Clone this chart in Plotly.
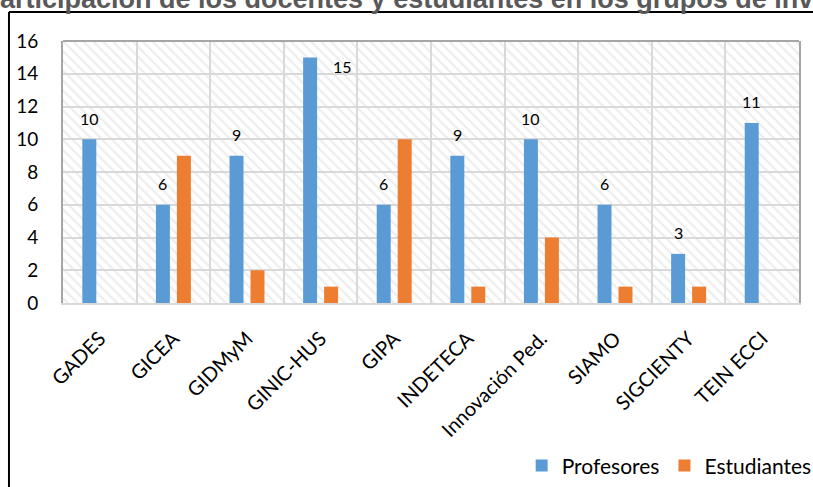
import plotly.graph_objects as go

categories = ["GADES", "GICEA", "GIDMyM", "GINIC-HUS", "GIPA", "INDETECA",
              "Innovación Ped.", "SIAMO", "SIGCIENTY", "TEIN ECCI"]
profesores = [10, 6, 9, 15, 6, 9, 10, 6, 3, 11]
estudiantes = [0, 9, 2, 1, 10, 1, 4, 1, 1, 0]
y_ticks = [0, 2, 4, 6, 8, 10, 12, 14, 16]
title_text = "Participación de los docentes y estudiantes en los grupos de investigación"

BLUE = "#5B9BD5"
ORANGE = "#ED7D31"
GRID = "#d9d9d9"
FONT = "Lato"

fig = go.Figure()

# hatched plot background
fig.add_trace(go.Bar(
    x=categories, y=[max(y_ticks)] * len(categories),
    offset=-0.5, width=1,
    marker=dict(color="rgba(0,0,0,0)", line=dict(width=0),
                pattern=dict(shape="\\", fgcolor=GRID, bgcolor="rgba(0,0,0,0)",
                             size=7, solidity=0.3)),
    showlegend=False, hoverinfo="skip",
))

fig.add_trace(go.Bar(name="Profesores", x=categories, y=profesores,
                     marker=dict(color=BLUE, line=dict(width=0))))
fig.add_trace(go.Bar(name="Estudiantes", x=categories, y=estudiantes,
                     marker=dict(color=ORANGE, line=dict(width=0))))

annotations = []
pmax = max(profesores)
for c, v in zip(categories, profesores):
    if v == pmax:
        annotations.append(dict(x=c, y=v, xref="x", yref="y", text=str(v),
                                showarrow=False, xshift=22, yshift=-9,
                                font=dict(family=FONT, size=16, color="#000000")))
    else:
        annotations.append(dict(x=c, y=v, xref="x", yref="y", text=str(v),
                                showarrow=False, xshift=-10.5, yshift=21,
                                font=dict(family=FONT, size=16, color="#000000")))

annotations.append(dict(x=-0.1128, y=1.097, xref="paper", yref="paper",
                        xanchor="left", yanchor="bottom", text="<b>" + title_text + "</b>",
                        showarrow=False,
                        font=dict(family="Liberation Sans", size=27, color="#595959")))

fig.update_layout(
    width=813, height=487, autosize=False,
    margin=dict(l=63, r=14, t=41, b=184, pad=0, autoexpand=False),
    paper_bgcolor="white", plot_bgcolor="white",
    barmode="group", bargap=0.43, bargroupgap=1/3,
    font=dict(family=FONT, size=18, color="#000000"),
    showlegend=True,
    legend=dict(orientation="h", x=1.024, xanchor="right", y=-0.622, yanchor="middle",
                font=dict(family=FONT, size=21, color="#000000"),
                bgcolor="rgba(0,0,0,0)", itemwidth=30, tracegroupgap=0),
    annotations=annotations,
    shapes=[
        dict(type="line", xref="paper", yref="paper", x0=0, x1=1, y0=1, y1=1,
             line=dict(color="#a6a6a6", width=2), layer="above"),
        dict(type="line", xref="paper", yref="paper", x0=-0.0734, x1=-0.0734,
             y0=-0.8, y1=1.1107, line=dict(color="#000000", width=2), layer="above"),
        dict(type="line", xref="paper", yref="paper", x0=-0.0734, x1=1.1,
             y0=1.1107, y1=1.1107, line=dict(color="#000000", width=2), layer="above"),
    ],
)

fig.update_xaxes(
    type="category", range=[-0.5, len(categories) - 0.5],
    tickangle=-45, tickson="boundaries", ticks="", ticklabelstandoff=14,
    showgrid=True, gridcolor=GRID, gridwidth=2,
    showline=True, linecolor=GRID, linewidth=2,
    tickfont=dict(family=FONT, size=20, color="#000000"),
    fixedrange=True,
)
fig.update_yaxes(
    range=[0, 16], tickvals=y_ticks, ticktext=[str(t) for t in y_ticks],
    showgrid=True, gridcolor=GRID, gridwidth=2, zeroline=False,
    showline=True, linecolor="#a6a6a6", linewidth=2, mirror=True,
    ticks="", ticklabelstandoff=19,
    tickfont=dict(family=FONT, size=19, color="#000000"),
    fixedrange=True,
)

fig.write_html("out.html", config={"displayModeBar": False},
               post_script="document.body.style.margin='0';document.body.style.overflow='hidden';")
